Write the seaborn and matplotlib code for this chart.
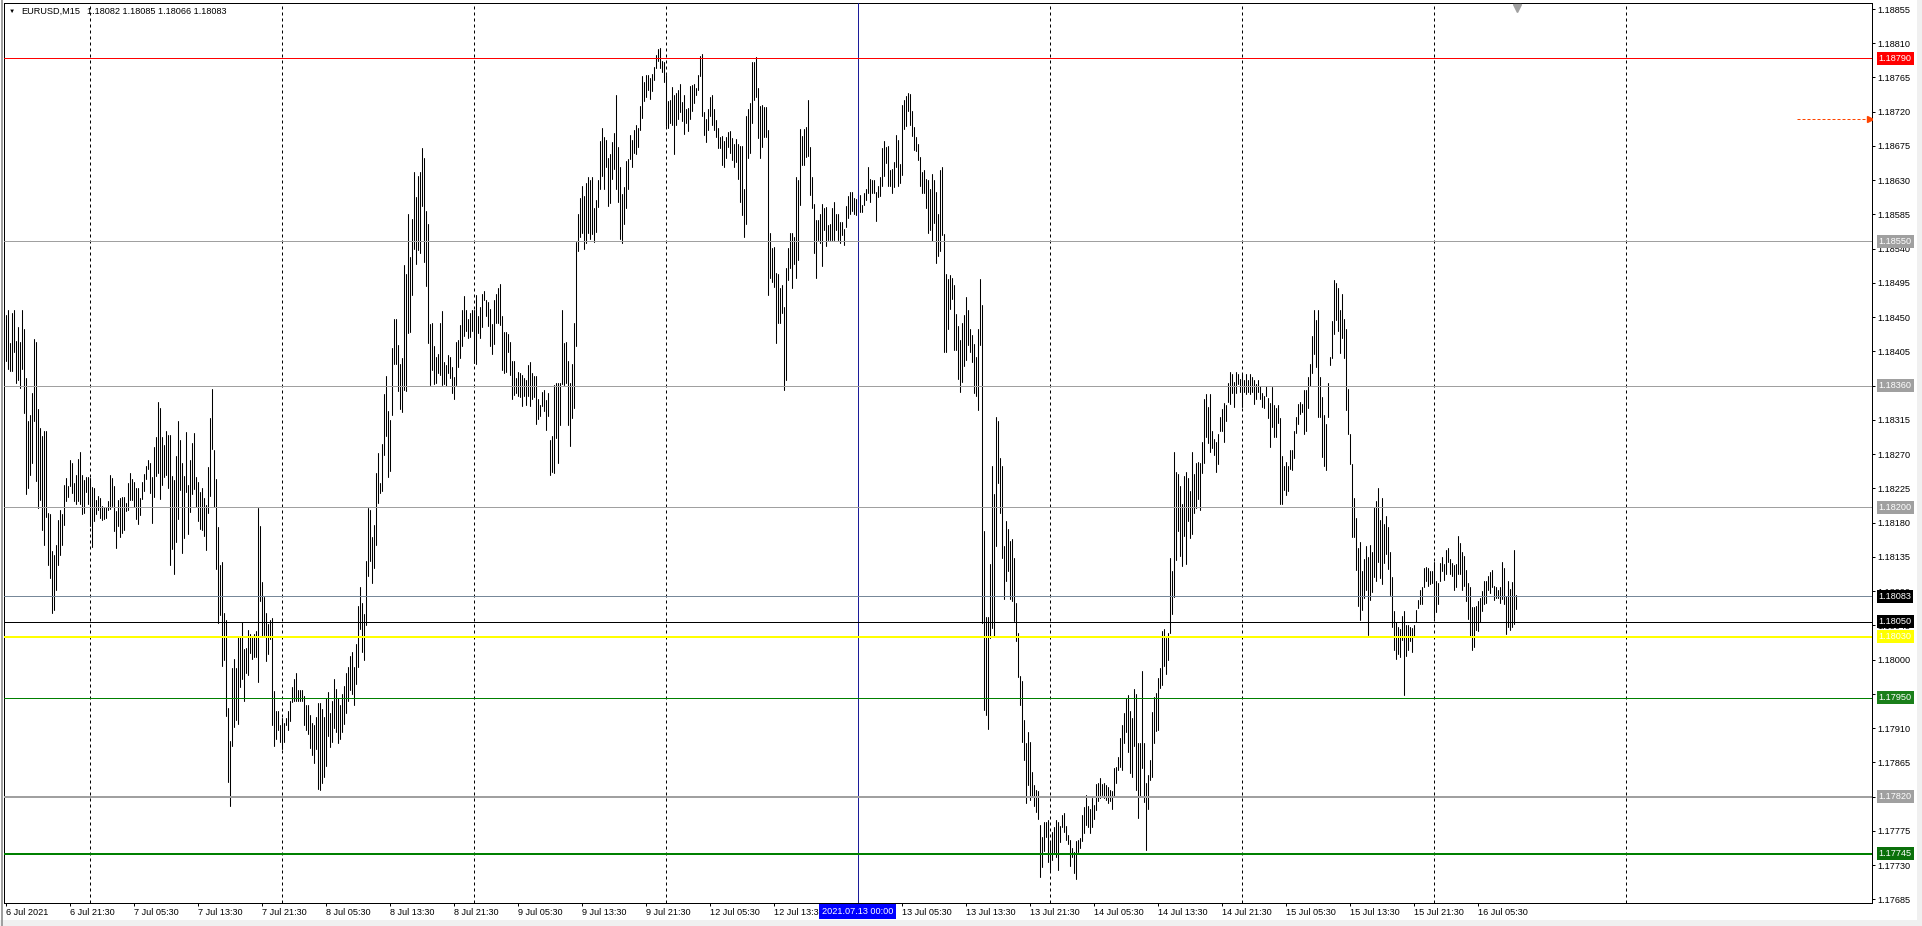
import numpy as np
import pandas as pd
import matplotlib
matplotlib.use("Agg")
import matplotlib.pyplot as plt
import matplotlib.transforms as mtransforms
from matplotlib.patches import Rectangle
import seaborn as sns

# EURUSD M15 bars: high / low in points above 1.17000, one pair of lists per session
sessions = ["2021-07-06 13:30", "2021-07-07", "2021-07-08", "2021-07-09",
            "2021-07-12", "2021-07-13", "2021-07-14", "2021-07-15", "2021-07-16"]

hi_06 = [1453,1459,1416,1456,1459,1419,1437,1417,1459,1434,1370,1313,1321,1350,1421,1418,1329,1304,1294,1301,
         1301,1193,1191,1143,1138,1150,1183,1197,1191,1230,1239,1228,1262,1259,1232,1243,1264,1273,1243,1236,1240,1240]
lo_06 = [1392,1382,1379,1379,1404,1363,1367,1357,1382,1324,1218,1225,1243,1259,1314,1235,1199,1210,1170,1150,
         1187,1124,1107,1061,1065,1092,1124,1138,1151,1177,1209,1214,1228,1219,1209,1204,1209,1205,1191,1192,1220,1205]

hi_07 = [1239,1227,1226,1210,1215,1212,1202,1200,1200,1209,1242,1239,1228,1195,1210,1212,1214,1214,1206,1232,
         1245,1237,1234,1225,1225,1212,1234,1244,1254,1262,1259,1240,1280,1293,1338,1331,1292,1282,1301,1295,
         1295,1241,1236,1268,1314,1289,1259,1241,1299,1229,1262,1285,1298,1240,1233,1220,1225,1212,1203,1253,
         1317,1355,1276,1237,1174,1124,1128,1061,1052,937,893,989,1001,989,1030,1030,1050,1014,1015,1039,
         1034,1030,1034,1037,1199,1176,1102,1082,1061,1047,1052,1055,959,932,932,914]
lo_07 = [1175,1148,1182,1191,1196,1186,1184,1185,1186,1197,1198,1202,1169,1147,1176,1161,1167,1170,1195,1197,
         1210,1210,1200,1185,1178,1190,1211,1222,1237,1250,1219,1179,1214,1241,1245,1211,1229,1240,1243,1226,
         1124,1145,1113,1154,1185,1223,1140,1160,1220,1165,1194,1218,1224,1201,1182,1172,1170,1162,1144,1193,
         1215,1277,1201,1119,1048,1059,992,999,926,839,808,886,911,921,915,964,974,946,982,980,
         1009,1001,1004,1003,970,1077,1030,1032,998,1007,1027,914,887,896,908,892]

hi_08 = [923,917,923,932,946,964,975,982,960,960,960,952,940,940,927,917,914,925,943,943,
         935,925,950,958,930,945,975,962,950,940,955,965,982,990,1005,1010,990,1020,1070,1095,
         1075,1060,1130,1199,1197,1161,1177,1245,1271,1232,1283,1349,1373,1327,1315,1409,1447,1447,1413,1388,
         1396,1518,1507,1585,1529,1579,1641,1608,1635,1641,1672,1659,1590,1572,1441,1442,1412,1398,1402,1442,
         1458,1391,1387,1400,1398,1384,1372,1418,1420,1440,1460,1478,1460,1447,1456,1460]
lo_08 = [882,892,914,908,919,944,945,945,946,946,946,914,908,902,884,874,864,882,830,828,
         838,846,860,900,885,892,910,905,890,896,905,915,930,945,960,955,940,968,990,1040,
         1010,1000,1045,1110,1130,1100,1120,1150,1206,1219,1222,1269,1294,1240,1248,1321,1388,1389,1353,1329,
         1326,1354,1353,1429,1430,1479,1539,1520,1538,1534,1596,1522,1491,1416,1361,1380,1362,1363,1376,1374,
         1361,1362,1359,1376,1370,1351,1343,1361,1384,1396,1412,1425,1432,1422,1424,1432]

hi_09 = [1459,1479,1451,1464,1481,1485,1472,1470,1461,1441,1472,1481,1488,1494,1451,1430,1430,1428,1418,1393,
         1393,1370,1378,1376,1374,1370,1367,1387,1391,1377,1373,1373,1343,1334,1352,1354,1341,1351,1289,1294,
         1361,1363,1363,1364,1459,1416,1417,1393,1363,1388,1443,1549,1586,1607,1622,1609,1626,1634,1630,1634,
         1593,1604,1630,1682,1698,1687,1683,1659,1665,1680,1692,1742,1673,1648,1612,1621,1655,1658,1689,1683,
         1696,1702,1698,1727,1767,1759,1768,1768,1764,1770,1779,1794,1802,1804,1787,1786]
lo_09 = [1390,1388,1429,1423,1437,1472,1451,1438,1412,1402,1415,1442,1442,1440,1380,1376,1378,1404,1374,1342,
         1348,1350,1346,1345,1333,1346,1334,1346,1333,1343,1345,1310,1316,1320,1333,1327,1302,1320,1243,1246,
         1245,1291,1258,1308,1362,1361,1363,1308,1281,1317,1330,1412,1537,1555,1561,1540,1547,1561,1553,1559,
         1549,1562,1595,1618,1636,1618,1647,1596,1600,1632,1645,1619,1602,1553,1548,1573,1593,1619,1658,1647,
         1666,1665,1674,1696,1712,1734,1740,1748,1737,1747,1762,1777,1787,1777,1772,1759]

hi_12 = [1768,1734,1736,1752,1742,1744,1748,1756,1733,1742,1724,1725,1754,1755,1756,1751,1768,1793,1796,1720,
         1711,1724,1740,1742,1724,1709,1699,1687,1688,1682,1687,1694,1695,1685,1678,1684,1678,1675,1675,1619,
         1714,1723,1731,1786,1786,1792,1751,1727,1729,1726,1726,1696,1561,1541,1542,1508,1507,1489,1492,1464,
         1514,1541,1561,1560,1555,1634,1630,1697,1688,1697,1700,1735,1674,1634,1599,1578,1578,1586,1599,1593,
         1595,1571,1573,1593,1602,1586,1586,1575,1575,1566,1596,1609,1615,1615,1606,1605]
lo_12 = [1701,1698,1705,1702,1665,1702,1711,1720,1708,1691,1705,1695,1711,1721,1731,1742,1749,1767,1715,1690,
         1680,1696,1715,1702,1696,1687,1672,1672,1650,1647,1659,1673,1666,1656,1647,1654,1632,1602,1584,1555,
         1573,1659,1666,1705,1735,1740,1685,1659,1673,1687,1687,1479,1502,1496,1490,1416,1442,1442,1455,1354,
         1368,1499,1515,1488,1520,1501,1525,1597,1650,1650,1661,1662,1610,1594,1534,1502,1552,1547,1517,1564,
         1543,1552,1551,1552,1552,1564,1552,1547,1558,1545,1569,1580,1586,1590,1586,1584]

hi_13 = [1612,1610,1597,1613,1618,1647,1631,1630,1630,1615,1622,1634,1672,1682,1674,1675,1644,1645,1654,1689,
         1683,1651,1729,1736,1741,1745,1743,1721,1700,1687,1678,1661,1641,1643,1631,1630,1619,1638,1630,1615,
         1586,1643,1647,1559,1507,1500,1506,1502,1492,1454,1439,1420,1443,1453,1476,1460,1434,1426,1415,1398,
         1434,1500,1466,1169,1056,1056,1126,1254,1218,1319,1313,1265,1254,1149,1182,1172,1156,1158,1134,1074,
         1035,979,972,920,891,905,892,852,835,829,827,783,767,786,787,789]
lo_13 = [1599,1588,1588,1597,1604,1613,1602,1613,1613,1577,1608,1609,1623,1636,1652,1623,1623,1613,1621,1647,
         1623,1626,1637,1697,1701,1721,1703,1688,1670,1668,1656,1623,1613,1613,1593,1561,1564,1550,1574,1521,
         1530,1537,1558,1404,1404,1434,1461,1474,1407,1407,1369,1352,1365,1386,1394,1414,1404,1391,1350,1347,
         1328,1413,1048,934,927,909,1028,1041,1031,1149,1232,1192,1133,1079,1103,1116,1079,1077,1051,1025,
         977,940,892,868,812,835,816,820,807,800,791,714,727,748,767,734]

hi_14 = [761,773,780,789,787,781,796,798,781,770,763,752,747,761,763,765,796,806,822,807,
         803,818,809,837,838,845,837,838,835,833,829,827,858,859,872,897,914,930,950,953,
         933,923,962,955,890,890,985,890,838,848,868,931,951,956,976,989,1038,1040,1028,1035,
         1133,1117,1273,1247,1244,1228,1205,1241,1247,1238,1222,1273,1244,1258,1260,1258,1286,1342,1349,1332,
         1349,1301,1290,1286,1296,1319,1329,1337,1335,1363,1378,1375,1365,1378,1375,1369]
lo_14 = [724,737,747,740,724,760,780,773,763,757,729,740,719,711,747,752,761,772,783,780,
         772,780,791,802,814,818,822,818,816,812,814,804,819,838,855,859,855,891,905,879,
         851,846,887,829,792,819,858,813,750,803,842,846,891,906,908,963,966,992,981,999,
         1035,1060,1082,1131,1169,1136,1123,1162,1126,1182,1160,1165,1192,1199,1211,1197,1245,1258,1293,1284,
         1273,1278,1269,1247,1257,1301,1300,1286,1313,1339,1336,1350,1332,1350,1362,1352]

hi_15 = [1375,1368,1375,1368,1375,1372,1367,1362,1368,1360,1350,1347,1360,1344,1337,1358,1335,1330,1335,1317,
         1268,1254,1260,1255,1275,1276,1301,1319,1336,1338,1336,1354,1354,1372,1388,1425,1459,1446,1459,1371,
         1345,1321,1310,1363,1398,1445,1499,1495,1489,1459,1480,1448,1434,1356,1296,1257,1213,1186,1147,1155,
         1117,1132,1149,1135,1150,1141,1201,1208,1226,1184,1213,1178,1189,1174,1141,1109,1064,1049,1043,1040,
         1057,1064,1045,1045,1043,1042,1046,1065,1078,1091,1096,1121,1122,1121,1116,1117]
lo_15 = [1332,1352,1349,1352,1349,1352,1336,1342,1352,1342,1332,1330,1346,1318,1279,1306,1292,1293,1311,1205,
         1205,1223,1216,1222,1250,1249,1265,1298,1310,1323,1325,1297,1301,1330,1360,1377,1402,1385,1319,1319,
         1266,1254,1249,1319,1387,1397,1428,1446,1432,1403,1423,1396,1328,1297,1257,1161,1161,1118,1070,1052,
         1065,1081,1091,1032,1078,1089,1109,1103,1128,1107,1099,1127,1139,1119,1085,1043,1013,1001,1007,1003,
         1026,953,1005,1013,1025,1010,1030,1049,1068,1073,1073,1095,1103,1097,1099,1100]

hi_16 = [1128,1103,1100,1127,1135,1125,1144,1147,1132,1127,1124,1125,1163,1153,1141,1136,1118,1100,1096,1069,
         1069,1071,1077,1081,1090,1103,1103,1110,1115,1118,1097,1095,1091,1095,1128,1121,1084,1103,1093,1102,1144,1085]
lo_16 = [1055,1062,1073,1103,1116,1105,1112,1128,1113,1110,1092,1095,1113,1112,1091,1097,1077,1053,1030,1013,
         1016,1039,1037,1049,1064,1073,1075,1091,1087,1095,1078,1081,1081,1074,1080,1073,1034,1043,1039,1043,1047,1066]

last_ohlc = [1.18082, 1.18085, 1.18066, 1.18083]

# horizontal levels and their price boxes on the right scale
level_price = [1.18790, 1.18550, 1.18360, 1.18200, 1.18083, 1.18050, 1.18030, 1.17950, 1.17820, 1.17745]
level_color = ["#ff0000", "#a0a0a0", "#a0a0a0", "#a0a0a0", "#778899", "#000000", "#ffff00", "#008000", "#a0a0a0", "#008000"]
level_px = [1, 1, 1, 1, 1, 1, 2, 1, 2, 2]
box_color = ["#ff0000", "#a0a0a0", "#a0a0a0", "#a0a0a0", "#000000", "#000000", "#ffff00", "#1a7f1a", "#a0a0a0", "#0a700a"]

alert_price = 1.18710
vline_time = "2021-07-13 00:00"
price_ticks = np.round(1.18855 - 0.00045 * np.arange(27), 5)

# ---- build bar table
highs = [hi_06, hi_07, hi_08, hi_09, hi_12, hi_13, hi_14, hi_15, hi_16]
lows = [lo_06, lo_07, lo_08, lo_09, lo_12, lo_13, lo_14, lo_15, lo_16]
frames = []
for start, hi, lo in zip(sessions, highs, lows):
    t = pd.date_range(start, periods=len(hi), freq="15min")
    frames.append(pd.DataFrame({"time": t, "high": hi, "low": lo}))
bars = pd.concat(frames, ignore_index=True)

day0 = np.datetime64("2021-07-06")
first_slot = 54  # 13:30 on the first day
slot = (bars.time.dt.hour * 60 + bars.time.dt.minute) // 15
bars["x"] = np.busday_count(day0, bars.time.values.astype("datetime64[D]")) * 96 + slot - first_slot
bars["bar"] = np.arange(len(bars))
long = bars.melt(id_vars=["bar", "x"], value_vars=["high", "low"], value_name="pts")
long["price"] = 1.17 + long.pts / 1e5

sns.set_style("white")
plt.rcParams["font.family"] = ["Liberation Sans", "DejaVu Sans"]
fs = 6.6

W, H = 1922, 926
fig = plt.figure(figsize=(W / 100, H / 100), dpi=100)
fig.patch.set_facecolor("white")
ax = fig.add_axes([4 / W, 23 / H, 1868 / W, 900 / H])

sns.lineplot(data=long, x="x", y="price", units="bar", estimator=None, errorbar=None,
             color="black", lw=0.75, legend=False, ax=ax, zorder=2)

xmin, xmax = -0.75, 933.25
ax.set_xlim(xmin, xmax)
ax.set_ylim(1.176801, 1.188629)
ax.set_xlabel("")
ax.set_ylabel("")

# daily dashed grid (drawn up to one day past the last bar)
last_x = bars.x.iloc[-1]
midnights = bars.loc[(bars.time.dt.hour == 0) & (bars.time.dt.minute == 0), "x"].to_numpy()
grid_x = np.arange(midnights[0], last_x + 96, 96)
vline_x = bars.loc[bars.time == pd.Timestamp(vline_time), "x"].iloc[0]
for gx in grid_x:
    if gx == vline_x:
        continue
    ax.axvline(gx, color="black", lw=0.72, ls=(0, (3, 3)), zorder=1)
ax.axvline(vline_x, color="#1c1c9a", lw=0.72, zorder=3)

# levels
for p, c, w in zip(level_price, level_color, level_px):
    ax.axhline(p, color=c, lw=0.72 * w, zorder=3)

# alert arrow at the right
ax.plot([xmax - 37.5, xmax - 1.2], [alert_price, alert_price], color="#ff4500", lw=0.72,
        ls=(0, (3, 2)), zorder=3)
ax.plot([xmax - 1.2], [alert_price], marker=">", ms=4, color="#ff4500", mec="#ff4500", zorder=3)

# chart shift marker
ax.plot([last_x + 0.5], [0.995], marker="v", ms=6, color="#a0a0a0",
        transform=mtransforms.blended_transform_factory(ax.transData, ax.transAxes),
        clip_on=False, zorder=4)

# axes frame
for s in ax.spines.values():
    s.set_color("black")
    s.set_linewidth(0.72)

# price scale
ax.yaxis.tick_right()
ax.set_yticks(price_ticks)
ax.set_yticklabels([f"{v:.5f}" for v in price_ticks])
ax.tick_params(axis="y", direction="out", length=2.2, width=0.72, pad=2, labelsize=fs,
               colors="black", right=True, left=False)

# time scale (the label hidden under the time box is left out)
lab = bars[(bars.x % 32 == 0) & ((bars.x - vline_x).abs() > 16)]
labels = []
for i, t in enumerate(lab.time):
    labels.append(f"{t.day} {t:%b} {t.year}" if i == 0 else f"{t.day} {t:%b %H:%M}")
ax.set_xticks(lab.x)
ax.set_xticklabels(labels, ha="left")
ax.tick_params(axis="x", direction="out", length=2.2, width=0.72, pad=1.5, labelsize=fs,
               colors="black", bottom=True)

# price boxes
ytr = mtransforms.blended_transform_factory(ax.transAxes, ax.transData)
for p, c in zip(level_price, box_color):
    ax.text(1.0035, p, f"{p:.5f}", transform=ytr, ha="left", va="center", fontsize=fs,
            color="white", clip_on=False, zorder=6,
            bbox=dict(boxstyle="square,pad=0.22", fc=c, ec=c, lw=0))

# crosshair time box
xtr = mtransforms.blended_transform_factory(ax.transData, ax.transAxes)
vt = pd.Timestamp(vline_time)
ax.text(vline_x, -0.0092, f"{vt:%Y.%m.%d %H:%M}", transform=xtr, ha="center", va="center",
        fontsize=fs, color="white", clip_on=False, zorder=6,
        bbox=dict(boxstyle="square,pad=0.3", fc="#0000ff", ec="#0000ff", lw=0))

# header
fig.text(9 / W, 1 - 11 / H, "\u25bc", fontsize=4.5, va="center", ha="left", color="black")
fig.text(21 / W, 1 - 11 / H, "EURUSD,M15", fontsize=fs, va="center", ha="left", color="black")
fig.text(87 / W, 1 - 11 / H, " ".join(f"{v:.5f}" for v in last_ohlc), fontsize=fs,
         va="center", ha="left", color="black")

# window edges
fig.add_artist(Rectangle((0, 0), 1, 6 / H, transform=fig.transFigure, fc="#f0f0f0", ec="none"))
fig.add_artist(Rectangle((1917 / W, 0), 5 / W, 1, transform=fig.transFigure, fc="#f0f0f0", ec="none"))
fig.add_artist(Rectangle((1 / W, 0), 1.5 / W, 1, transform=fig.transFigure, fc="#a0a0a0", ec="none"))

fig.savefig("out.png", dpi=100, facecolor="white")
